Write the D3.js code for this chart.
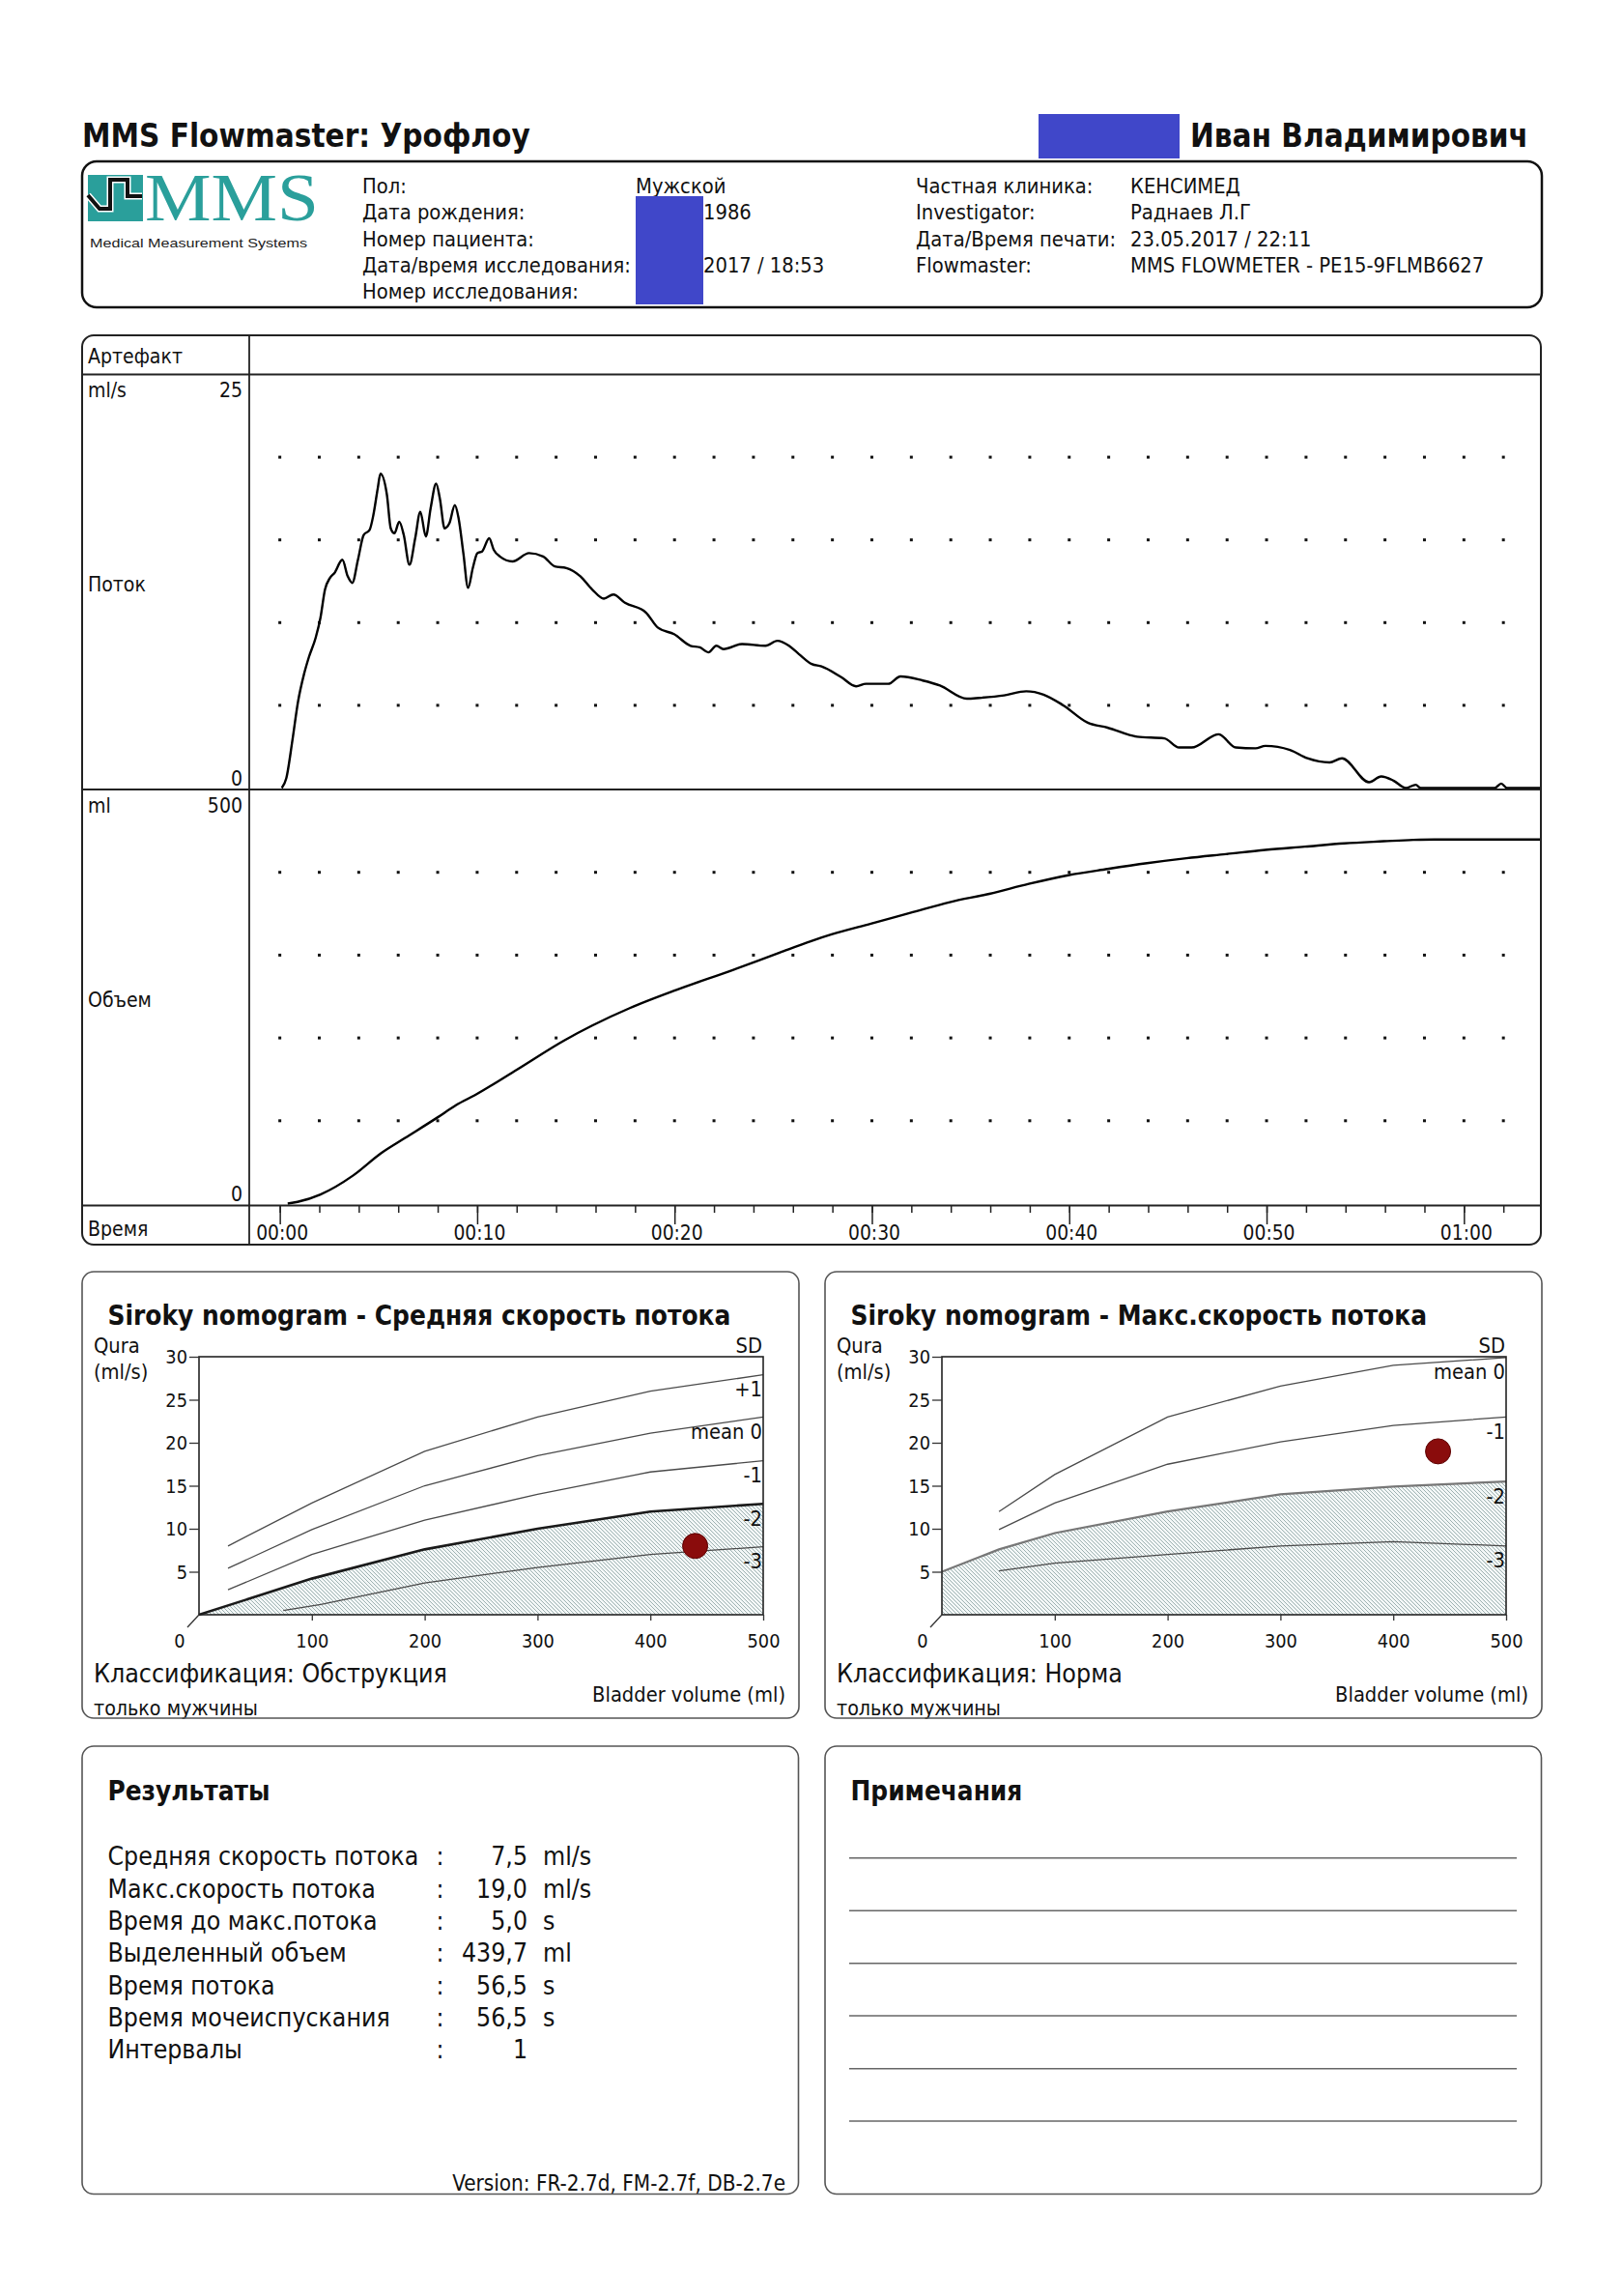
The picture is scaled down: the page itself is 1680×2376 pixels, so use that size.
<!DOCTYPE html>
<html><head><meta charset="utf-8">
<script src="https://cdn.jsdelivr.net/npm/d3@7/dist/d3.min.js"></script>
<style>
body{margin:0;background:#fff;}
svg{display:block;}
</style></head>
<body>
<svg id="page" width="1680" height="2376"></svg>
<script>
// ---------------- DATA ----------------
const reportTitle = "MMS Flowmaster: Урофлоу";
const patientName = "Иван Владимирович";
const infoLabelsLeft = ["Пол:", "Дата рождения:", "Номер пациента:", "Дата/время исследования:", "Номер исследования:"];
const infoValuesLeft = ["Мужской", "1986", "", "2017 / 18:53", ""];
const infoLabelsRight = ["Частная клиника:", "Investigator:", "Дата/Время печати:", "Flowmaster:"];
const infoValuesRight = ["КЕНСИМЕД", "Раднаев Л.Г", "23.05.2017 / 22:11", "MMS FLOWMETER - PE15-9FLMB6627"];

// flow curve (s, ml/s)
const flowTime = [0.1,0.33,0.64,0.92,1.23,1.47,1.82,2.06,2.29,2.54,2.77,3.17,3.44,3.67,3.96,4.25,4.55,4.74,4.96,5.1,5.43,5.62,5.81,6.05,6.28,6.57,6.86,7.12,7.4,7.64,7.92,8.11,8.35,8.59,8.87,9.06,9.3,9.54,9.78,10.01,10.25,10.61,10.84,11.15,11.79,12.63,13.34,13.93,14.52,15.23,15.83,16.42,16.9,17.49,18.56,19.15,19.98,20.81,21.29,21.71,22.12,22.48,23.42,24.61,25.21,25.8,26.3,26.95,27.45,28.45,29.2,29.7,30.83,31.45,32.58,33.45,34.82,35.45,36.7,37.82,38.7,39.7,40.94,41.94,43.44,44.82,45.57,46.2,47.57,48.44,49.44,49.94,51.19,52.07,53.19,53.82,55.19,55.81,56.43,57.06,57.56,57.81,61.56,61.89,62.19,63.9];
const flowRate = [0,0.6,2.9,5.2,6.9,7.9,9.1,10.3,12.0,12.7,13.0,13.8,12.8,12.4,13.8,15.3,15.6,16.5,18.1,19.0,17.7,15.7,15.4,16.1,15.3,13.5,15.1,16.7,15.2,16.9,18.4,17.5,15.7,16.0,17.1,16.3,14.2,12.1,13.3,14.2,14.3,15.1,14.4,14.0,13.7,14.2,14.0,13.4,13.3,12.8,12.0,11.45,11.7,11.2,10.6,9.7,9.3,8.6,8.5,8.2,8.6,8.4,8.7,8.6,8.9,8.6,8.1,7.5,7.35,6.7,6.15,6.3,6.3,6.75,6.5,6.2,5.4,5.45,5.6,5.85,5.65,5.0,3.95,3.65,3.1,3.0,2.45,2.45,3.25,2.45,2.4,2.55,2.3,1.8,1.55,1.8,0.35,0.7,0.45,0,0.2,0,0,0.27,0,0];

// volume curve (s, ml)
const volTime = [0.4,0.9,2.06,3.72,5.14,6.33,7.99,8.94,9.89,12.03,14.41,15.83,17.73,20.1,22.95,25.32,26.93,27.96,29.95,31.95,33.95,35.95,37.95,39.95,41.94,43.94,45.94,47.94,49.94,51.94,53.94,55.94,57.44,58.5,63.9];
const volValue = [0,2,11,34,61,79,104,119,131,162,197,215,236,258,282,303,317,325,338,351,364,374,386,396.5,404,411,417,422,427,431,435,437.5,439.2,439.7,439.7];

const timeTicks = [0,10,20,30,40,50,60];
const timeLabels = ["00:00","00:10","00:20","00:30","00:40","00:50","01:00"];
const flowGrid = [5,10,15,20];
const volGrid = [100,200,300,400];

// Siroky nomograms [bladder volume ml, flow ml/s]
const nomoXTicks = [0,100,200,300,400,500];
const nomoYTicks = [5,10,15,20,25,30];
const avgPlus1 = [[25.7,8.0],[100,13.0],[200,19.0],[300,23.0],[400,26.0],[500,27.9]];
const avgMean0 = [[25.7,5.4],[100,9.9],[200,15.0],[300,18.5],[400,21.1],[500,23.0]];
const avgMinus1 = [[25.7,2.9],[100,7.0],[200,11.0],[300,14.0],[400,16.6],[500,17.9]];
const avgMinus2 = [[0,0],[100,4.2],[200,7.6],[300,10.0],[400,12.0],[500,12.9]];
const avgMinus3 = [[74.7,0.5],[107.9,1.2],[200,3.7],[300,5.5],[400,7.0],[500,7.9]];
const maxMean0 = [[50.6,12.0],[100,16.3],[200,23.0],[300,26.6],[400,29.0],[500,29.9]];
const maxMinus1 = [[50.6,9.9],[100,13.0],[200,17.5],[300,20.1],[400,22.0],[500,23.0]];
const maxMinus2 = [[0,5.0],[50.6,7.6],[100,9.5],[200,12.0],[300,14.0],[400,14.9],[500,15.5]];
const maxMinus3 = [[50.6,5.1],[100,6.0],[200,7.0],[300,8.0],[400,8.5],[500,8.0]];
const avgPoint = [439.7, 8.0];
const maxPoint = [439.7, 19.0];

const resultLabels = ["Средняя скорость потока","Макс.скорость потока","Время до макс.потока","Выделенный объем","Время потока","Время мочеиспускания","Интервалы"];
const resultValues = ["7,5","19,0","5,0","439,7","56,5","56,5","1"];
const resultUnits = ["ml/s","ml/s","s","ml","s","s",""];
const versionText = "Version: FR-2.7d, FM-2.7f, DB-2.7e";

// ---------------- HELPERS ----------------
const F = "'DejaVu Sans Condensed','DejaVu Sans',sans-serif";
const svg = d3.select('#page');
const INK = '#111';
function sizeFor(str, weight, w, fam){
  const t = svg.append('text').style('font-family', fam||F).style('font-weight', weight)
    .style('font-size','20px').text(str);
  const len = t.node().getComputedTextLength(); t.remove();
  return 20 * w / len;
}
function T(g, x, y, str, size, o){
  o = o||{};
  return g.append('text').attr('x',x).attr('y',y).attr('dominant-baseline','central')
    .attr('text-anchor', o.anchor||'start')
    .style('font-family', o.fam||F).style('font-weight', o.weight||'normal')
    .style('font-size', size+'px').attr('fill', o.fill||INK).text(str);
}
function box(x,y,w,h,rx,stroke,sw){
  svg.append('rect').attr('x',x).attr('y',y).attr('width',w).attr('height',h).attr('rx',rx)
    .attr('fill','none').attr('stroke',stroke).attr('stroke-width',sw);
}

const sTitle = sizeFor(reportTitle,'bold',464);
const sInfo = sizeFor("Дата/время исследования:",'normal',278);
const sLab = sizeFor("Артефакт",'normal',98);
const sTick = sizeFor("00:00",'normal',54);
const sNomoTitle = sizeFor("Siroky nomogram - Средняя скорость потока",'bold',645);
const sNomoLab = sizeFor("Bladder volume (ml)",'normal',200);
const sNomoTick = sizeFor("500",'normal',34);
const sClass = sizeFor("Классификация: Обструкция",'normal',366);
const sMen = sizeFor("только мужчины",'normal',170);
const sHead = sizeFor("Результаты",'bold',168);
const sRow = sizeFor("Средняя скорость потока",'normal',322);
const sVer = sizeFor(versionText,'normal',345);

// ---------------- HEADER ----------------
T(svg, 85, 140, reportTitle, sTitle, {weight:'bold'});
svg.append('rect').attr('x',1075).attr('y',118).attr('width',146).attr('height',46).attr('fill','#4047c9');
T(svg, 1232, 140, patientName, sTitle, {weight:'bold'});
box(85,167,1511,151,15,'#111',2.5);

// logo
const logo = svg.append('g');
logo.append('rect').attr('x',91).attr('y',181).attr('width',57).attr('height',48).attr('fill','#2a9f9b');
logo.append('path').attr('d','M91,202 L103,216 L114,216 L114,186 L132,186 L132,203 L147,203')
  .attr('fill','none').attr('stroke','#fff').attr('stroke-width',7).attr('stroke-linejoin','miter');
logo.append('path').attr('d','M91,202 L103,216 L114,216 L114,186 L132,186 L132,203 L147,203')
  .attr('fill','none').attr('stroke','#111').attr('stroke-width',4).attr('stroke-linejoin','miter');
logo.append('text').attr('x',150).attr('y',228).style('font-family',"'Liberation Serif',serif")
  .style('font-size','69px').attr('fill','#2a9f9b').attr('textLength',180).attr('lengthAdjust','spacingAndGlyphs').text('MMS');
logo.append('text').attr('x',93).attr('y',256).style('font-family',"'Liberation Sans',sans-serif")
  .style('font-size','13.5px').attr('fill','#222').attr('textLength',225).attr('lengthAdjust','spacingAndGlyphs').text('Medical Measurement Systems');

const rowY = [192.5, 219.8, 247, 274.3, 301.5];
infoLabelsLeft.forEach((s,i)=>T(svg, 375, rowY[i], s, sInfo));
infoValuesLeft.forEach((s,i)=>{ if(s) T(svg, i===0?658:728, rowY[i], s, sInfo); });
svg.append('rect').attr('x',658).attr('y',203).attr('width',70).attr('height',112).attr('fill','#4047c9');
infoLabelsRight.forEach((s,i)=>T(svg, 948, rowY[i], s, sInfo));
infoValuesRight.forEach((s,i)=>T(svg, 1170, rowY[i], s, sInfo));

// ---------------- MAIN CHART ----------------
const xT = d3.scaleLinear().domain([-1.5, 63.9]).range([259, 1595]);
const yF = d3.scaleLinear().domain([0,25]).range([815.5, 387.5]);
const yV = d3.scaleLinear().domain([0,500]).range([1245.5, 817]);
const main = svg.append('g');
svg.append('clipPath').attr('id','plotclip').append('rect').attr('x',259).attr('y',387).attr('width',1336).attr('height',861);

// grid dots
const dotT = d3.range(0, 63, 2);
flowGrid.forEach(v=>{
  main.selectAll(null).data(dotT).enter().append('rect')
    .attr('x',d=>xT(d)-1.5).attr('y',yF(v)-1.5).attr('width',3).attr('height',3).attr('fill','#111');
});
volGrid.forEach(v=>{
  main.selectAll(null).data(dotT).enter().append('rect')
    .attr('x',d=>xT(d)-1.5).attr('y',yV(v)-1.5).attr('width',3).attr('height',3).attr('fill','#111');
});

const flowPts = flowTime.map((t,i)=>[t, flowRate[i]]);
const volPts = volTime.map((t,i)=>[t, volValue[i]]);
main.append('path').datum(flowPts).attr('clip-path','url(#plotclip)')
  .attr('d', d3.line().x(d=>xT(d[0])).y(d=>yF(d[1])).curve(d3.curveMonotoneX))
  .attr('fill','none').attr('stroke','#000').attr('stroke-width',2.4).attr('stroke-linejoin','round');
main.append('path').datum(volPts).attr('clip-path','url(#plotclip)')
  .attr('d', d3.line().x(d=>xT(d[0])).y(d=>yV(d[1])).curve(d3.curveMonotoneX))
  .attr('fill','none').attr('stroke','#000').attr('stroke-width',2.4);

// frame lines
[387.5, 817, 1247.5].forEach(y=>main.append('line').attr('x1',85).attr('x2',1595).attr('y1',y).attr('y2',y)
  .attr('stroke','#222').attr('stroke-width',2));
main.append('line').attr('x1',258).attr('x2',258).attr('y1',347).attr('y2',1288).attr('stroke','#222').attr('stroke-width',1.8);
box(85,347,1510,941,12,'#222',2);

// time axis
const axMinor = d3.axisBottom(xT).tickValues(d3.range(0,63,2)).tickSize(7).tickFormat('');
const gMinor = main.append('g').attr('transform','translate(0,1248)').call(axMinor);
const axMajor = d3.axisBottom(xT).tickValues(timeTicks).tickSize(19).tickFormat((d,i)=>timeLabels[i]);
const gMajor = main.append('g').attr('transform','translate(0,1248)').call(axMajor);
[gMinor,gMajor].forEach(g=>{ g.select('.domain').remove(); g.selectAll('line').attr('stroke','#222').attr('stroke-width',1.5); });
gMajor.selectAll('text').attr('y',28).attr('dy',null).attr('dominant-baseline','central')
  .style('font-family',F).style('font-size',sTick+'px').attr('fill',INK).attr('dx',2);

// panel labels
T(main, 91, 368, "Артефакт", sLab);
T(main, 91, 403, "ml/s", sLab);
T(main, 251, 403, "25", sLab, {anchor:'end'});
T(main, 91, 604, "Поток", sLab);
T(main, 251, 805, "0", sLab, {anchor:'end'});
T(main, 91, 833, "ml", sLab);
T(main, 251, 833, "500", sLab, {anchor:'end'});
T(main, 91, 1034, "Объем", sLab);
T(main, 251, 1235, "0", sLab, {anchor:'end'});
T(main, 91, 1271, "Время", sLab);

// ---------------- NOMOGRAMS ----------------
const defs = svg.append('defs');
const pat = defs.append('pattern').attr('id','hatch').attr('patternUnits','userSpaceOnUse').attr('width',4).attr('height',4);
pat.append('rect').attr('width',4).attr('height',4).attr('fill','#f3f7f7');
pat.append('path').attr('d','M-1,-1 L5,5 M-1,3 L1,5 M3,-1 L5,1').attr('stroke','#93a9a9').attr('stroke-width',0.9);

function nomogram(x0, cfg){
  const g = svg.append('g');
  const L = x0 + 121, R = x0 + 705;
  const xN = d3.scaleLinear().domain([0,500]).range([L, R]);
  const yN = d3.scaleLinear().domain([0,30]).range([1671, 1404]);
  box(x0, 1316, 742, 462, 12, '#555', 1.6);
  T(g, x0+26.5, 1361, cfg.title, sNomoTitle, {weight:'bold'});
  T(g, x0+12, 1392, "Qura", sNomoLab);
  T(g, x0+12, 1419, "(ml/s)", sNomoLab);
  T(g, R-1, 1392, "SD", sNomoLab, {anchor:'end'});
  // hatched area
  const ln = d3.line().x(d=>xN(d[0])).y(d=>yN(d[1]));
  g.append('path').datum(cfg.m2).attr('d', d3.area().x(d=>xN(d[0])).y0(yN(0)).y1(d=>yN(d[1]))).attr('fill','url(#hatch)');
  cfg.lines.forEach(l=>{
    g.append('path').datum(l).attr('d', ln).attr('fill','none').attr('stroke','#4a4a4a').attr('stroke-width',1.3);
  });
  g.append('path').datum(cfg.m2).attr('d', ln).attr('fill','none').attr('stroke',cfg.m2Color).attr('stroke-width',cfg.m2Width);
  // frame
  g.append('rect').attr('x',L).attr('y',yN(30)).attr('width',R-L).attr('height',yN(0)-yN(30))
    .attr('fill','none').attr('stroke','#222').attr('stroke-width',1.6);
  // axes
  const ay = d3.axisLeft(yN).tickValues(nomoYTicks).tickSize(10);
  const gy = g.append('g').attr('transform',`translate(${L},0)`).call(ay);
  gy.select('.domain').remove();
  gy.selectAll('line').attr('stroke','#333').attr('stroke-width',1.3);
  gy.selectAll('text').attr('x',-12).attr('dy',null).attr('dominant-baseline','central')
    .style('font-family',F).style('font-size',sNomoTick+'px').attr('fill',INK);
  const ax = d3.axisBottom(xN).tickValues(nomoXTicks.slice(1)).tickSize(6);
  const gx = g.append('g').attr('transform','translate(0,1671)').call(ax);
  gx.select('.domain').remove();
  gx.selectAll('line').attr('stroke','#333').attr('stroke-width',1.3);
  gx.selectAll('text').attr('y',27).attr('dy',null).attr('dominant-baseline','central')
    .style('font-family',F).style('font-size',sNomoTick+'px').attr('fill',INK);
  // origin diagonal and zero label
  g.append('line').attr('x1',L).attr('y1',1671).attr('x2',L-12).attr('y2',1684).attr('stroke','#333').attr('stroke-width',1.3);
  T(g, L-20, 1698, String(nomoXTicks[0]), sNomoTick, {anchor:'middle'});
  // SD labels
  cfg.sdLabels.forEach((s,i)=>{
    const arr = cfg.sdLines[i];
    T(g, R-1, yN(arr[arr.length-1][1])+15, s, sNomoLab, {anchor:'end'});
  });
  // point
  g.append('circle').attr('cx',xN(cfg.point[0])).attr('cy',yN(cfg.point[1])).attr('r',13)
    .attr('fill','#8a0c0c').attr('stroke','#5c0000').attr('stroke-width',1);
  T(g, x0+12, 1731, cfg.cls, sClass);
  T(g, x0+728, 1753, "Bladder volume (ml)", sNomoLab, {anchor:'end'});
  T(g, x0+12, 1767, "только мужчины", sMen);
}
nomogram(85, {
  title: "Siroky nomogram - Средняя скорость потока",
  lines: [avgPlus1, avgMean0, avgMinus1, avgMinus3], m2: avgMinus2, m2Color:'#1a1a1a', m2Width:2.6,
  sdLabels: ["+1","mean 0","-1","-2","-3"], sdLines: [avgPlus1, avgMean0, avgMinus1, avgMinus2, avgMinus3],
  point: avgPoint, cls: "Классификация: Обструкция"
});
nomogram(854, {
  title: "Siroky nomogram - Макс.скорость потока",
  lines: [maxMean0, maxMinus1, maxMinus3], m2: maxMinus2, m2Color:'#777', m2Width:2.2,
  sdLabels: ["mean 0","-1","-2","-3"], sdLines: [maxMean0, maxMinus1, maxMinus2, maxMinus3],
  point: maxPoint, cls: "Классификация: Норма"
});

// ---------------- RESULTS ----------------
box(85,1807,741.5,463.5,12,'#555',1.6);
T(svg, 111.5, 1853, "Результаты", sHead, {weight:'bold'});
const resY0 = 1920.7, resDY = 33.33;
resultLabels.forEach((s,i)=>{
  const y = resY0 + i*resDY;
  T(svg, 111.5, y, s, sRow);
  T(svg, 455.5, y, ":", sRow, {anchor:'middle'});
  T(svg, 546, y, resultValues[i], sRow, {anchor:'end'});
  if (resultUnits[i]) T(svg, 562, y, resultUnits[i], sRow);
});
T(svg, 813, 2259, versionText, sVer, {anchor:'end'});

// ---------------- NOTES ----------------
box(854,1807,741.5,463.5,12,'#555',1.6);
T(svg, 880.5, 1853, "Примечания", sHead, {weight:'bold'});
[1922.7,1977.3,2031.7,2086,2140.7,2195].forEach(y=>{
  svg.append('line').attr('x1',879).attr('x2',1570).attr('y1',y).attr('y2',y).attr('stroke','#666').attr('stroke-width',1.6);
});
</script>
</body></html>
